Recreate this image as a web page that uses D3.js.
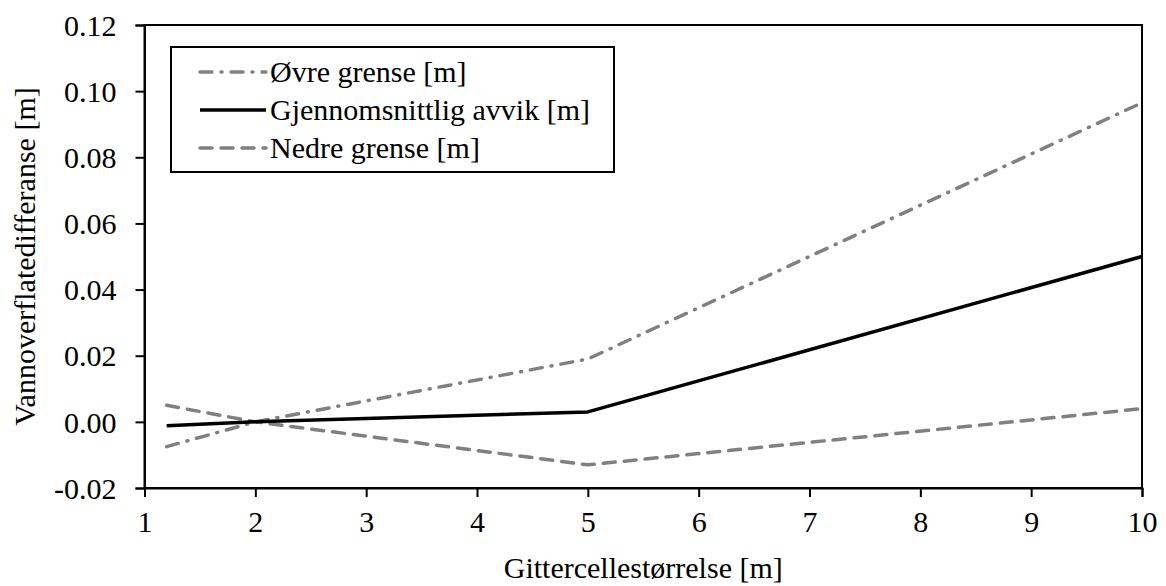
<!DOCTYPE html>
<html>
<head>
<meta charset="utf-8">
<script src="https://cdn.jsdelivr.net/npm/d3@7"></script>
<style>
  body { margin: 0; background: #fff; }
  svg, svg text { font-family: 'Liberation Serif', 'Times New Roman', Times, 'DejaVu Serif', serif; }
</style>
</head>
<body>
<div id="chart"></div>
<script>
const xValues = [1.2, 2, 5, 10];
const upper = [-0.0075, 0.0, 0.019, 0.0965];
const mean = [-0.0012, 0.0, 0.003, 0.050];
const lower = [0.005, 0.0, -0.013, 0.004];
const xTicks = [1, 2, 3, 4, 5, 6, 7, 8, 9, 10];
const yTicks = [-0.02, 0, 0.02, 0.04, 0.06, 0.08, 0.10, 0.12];
const seriesNames = ['Øvre grense [m]', 'Gjennomsnittlig avvik [m]', 'Nedre grense [m]'];

const width = 1166, height = 586;
const margin = { top: 25, right: 24, bottom: 98, left: 144.5 };
const serif = "'Liberation Serif', 'Times New Roman', Times, 'DejaVu Serif', serif";

const svg = d3.select('#chart').append('svg')
  .attr('width', width)
  .attr('height', height)
  .attr('font-family', serif);

const x = d3.scaleLinear().domain([1, 10]).range([margin.left, width - margin.right]);
const y = d3.scaleLinear().domain([-0.02, 0.12]).range([height - margin.bottom, margin.top]);

// plot frame
svg.append('rect')
  .attr('x', x(1)).attr('y', y(0.12))
  .attr('width', x(10) - x(1)).attr('height', y(-0.02) - y(0.12))
  .attr('fill', 'none').attr('stroke', '#000').attr('stroke-width', 2);

const fmtY = d => d3.format('.2f')(d).replace('−', '-');

const xAxis = svg.append('g')
  .attr('transform', `translate(0, ${y(-0.02)})`)
  .call(d3.axisBottom(x).tickValues(xTicks).tickSize(9).tickPadding(14).tickFormat(d3.format('d')));
const yAxis = svg.append('g')
  .attr('transform', `translate(${x(1)}, 0)`)
  .call(d3.axisLeft(y).tickValues(yTicks).tickSize(9).tickPadding(19).tickFormat(fmtY));

[xAxis, yAxis].forEach(a => {
  a.attr('font-family', serif);
  a.select('.domain').attr('stroke-width', 2);
  a.selectAll('.tick line').attr('stroke-width', 2);
  a.selectAll('.tick text')
    .attr('font-family', serif)
    .attr('font-size', 30)
    .attr('fill', '#000');
});
yAxis.selectAll('.tick text').attr('dy', '0.34em');

const styles = [
  { color: '#808080', dash: '12,9,1,9', width: 3.5 },
  { color: '#000', dash: null, width: 3.5 },
  { color: '#808080', dash: '12,9', width: 3.5 }
];
const seriesData = [upper, mean, lower];

const line = d3.line()
  .x((d, i) => x(xValues[i]))
  .y(d => y(d));

// dashed ones first, mean on top
[0, 2, 1].forEach(k => {
  svg.append('path')
    .datum(seriesData[k])
    .attr('d', line)
    .attr('fill', 'none')
    .attr('stroke', styles[k].color)
    .attr('stroke-width', styles[k].width)
    .attr('stroke-dasharray', styles[k].dash)
    .attr('stroke-linecap', styles[k].dash ? 'round' : 'butt')
    .attr('stroke-linejoin', 'round');
});

// legend
const legend = svg.append('g');
legend.append('rect')
  .attr('x', 171).attr('y', 47).attr('width', 443).attr('height', 125)
  .attr('fill', '#fff').attr('stroke', '#000').attr('stroke-width', 2);

seriesNames.forEach((name, i) => {
  const ly = 72 + i * 38;
  legend.append('line')
    .attr('x1', 200).attr('x2', 266).attr('y1', ly).attr('y2', ly)
    .attr('stroke', styles[i].color)
    .attr('stroke-width', styles[i].width)
    .attr('stroke-dasharray', styles[i].dash)
    .attr('stroke-linecap', styles[i].dash ? 'round' : 'butt');
  legend.append('text')
    .attr('x', 270).attr('y', ly + 10)
    .attr('font-family', serif)
    .attr('font-size', 30)
    .text(name);
});

// axis titles
svg.append('text')
  .attr('x', (x(1) + x(10)) / 2).attr('y', 578)
  .attr('text-anchor', 'middle')
  .attr('font-family', serif)
  .attr('font-size', 30)
  .text('Gittercellestørrelse [m]');

svg.append('text')
  .attr('transform', `translate(35, ${(y(-0.02) + y(0.12)) / 2}) rotate(-90)`)
  .attr('text-anchor', 'middle')
  .attr('font-family', serif)
  .attr('font-size', 30)
  .text('Vannoverflatedifferanse [m]');
</script>
</body>
</html>
